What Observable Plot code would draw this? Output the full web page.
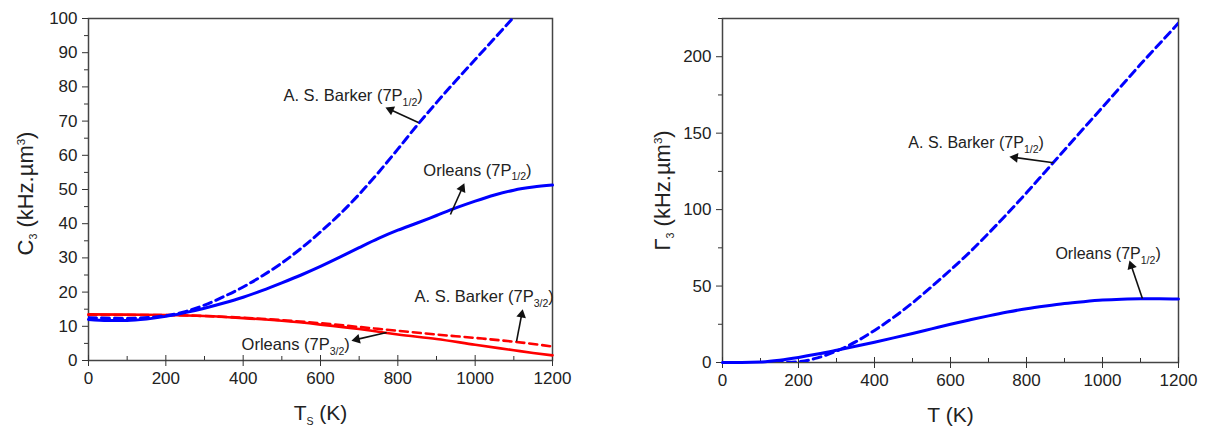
<!DOCTYPE html>
<html>
<head>
<meta charset="utf-8">
<script src="https://cdn.jsdelivr.net/npm/d3@7"></script>
<script src="https://cdn.jsdelivr.net/npm/@observablehq/plot@0.6"></script>
<style>
  html, body { margin: 0; padding: 0; background: #fff; }
  #wrap { position: relative; width: 1207px; height: 427px; background: #fff; overflow: hidden; }
  #left { position: absolute; left: 0; top: 0; }
  #right { position: absolute; left: 600px; top: 0; }
</style>
</head>
<body>
<div id="wrap"><div id="left"></div><div id="right"></div></div>
<script>
// ---------- Left panel: C3 vs surface temperature ----------
const tempsBarker12 = [0,100,200,250,300,350,400,450,500,550,600,650,700,750,800,850,900,950,1000,1050,1100];
const barker12C3    = [12.5,12.3,13.1,14.3,16.2,18.7,21.5,24.8,28.5,32.8,37.6,42.8,48.6,55,61.8,68.8,75.4,81.8,88,94.2,100.4];

const tempsOrleans12 = [0,50,100,150,200,250,300,350,400,450,500,550,600,650,700,750,800,850,900,950,1000,1050,1100,1150,1200];
const orleans12C3    = [12,11.7,11.7,12.1,12.9,14,15.3,16.8,18.5,20.5,22.7,25,27.5,30.2,33,35.7,38.1,40.2,42.4,44.6,46.6,48.4,49.8,50.7,51.3];

const tempsBarker32 = [0,100,200,300,400,500,600,700,800,900,1000,1100,1200];
const barker32C3    = [13.3,13.3,13.3,13.0,12.5,11.8,10.9,9.8,8.7,7.6,6.6,5.5,4.1];

const tempsOrleans32 = [0,100,200,300,400,500,600,700,750,800,900,1000,1100,1150,1200];
const orleans32C3    = [13.5,13.4,13.3,13.0,12.4,11.6,10.5,9.2,8.4,7.6,6.3,4.6,3.0,2.2,1.5];

// annotations (left): text, anchor T, anchor C
const leftLabelText = ["A. S. Barker (7P_{1/2})", "Orleans (7P_{1/2})", "A. S. Barker (7P_{3/2})", "Orleans (7P_{3/2})"];
const leftLabelT    = [504, 866, 843, 396];
const leftLabelC    = [77.5, 55.6, 18.7, 4.7];
// arrows (left): tail -> head
const leftArrowT1 = [853, 936, 1107, 771];
const leftArrowC1 = [69.6, 42.7, 5.6, 8.2];
const leftArrowT2 = [768, 972, 1123, 680];
const leftArrowC2 = [74, 51.8, 15, 5.8];

// ---------- Right panel: Gamma3 vs T ----------
const tempsRight = [0,50,100,150,200,250,300,350,400,450,500,550,600,650,700,750,800,850,900,950,1000,1050,1100,1150,1200];
const barkerG3   = [0,0,0,0,0.5,3,7.5,13.5,21,29.5,39,49.5,60.5,72,84.5,97.5,111,125,139,153,167,181,195,208.5,222];
const orleansG3  = [0,0,0.3,1.5,3.3,5.5,8,10.6,13.3,16.1,19,22,25,27.8,30.5,33,35.2,37,38.6,39.8,40.8,41.4,41.7,41.7,41.5];

const rightLabelText = ["A. S. Barker (7P_{1/2})", "Orleans (7P_{1/2})"];
const rightLabelT    = [489, 876];
const rightLabelG    = [143.8, 71.2];
const rightArrowT1 = [871, 1105];
const rightArrowG1 = [130.7, 41.8];
const rightArrowT2 = [755, 1071];
const rightArrowG2 = [134.6, 66.7];

// ticks
const xMajor = [0,200,400,600,800,1000,1200];
const xMinor = [100,300,500,700,900,1100];
const yMajorLeft = d3.range(0, 101, 10);
const yMinorLeft = d3.range(5, 100, 10);
const yMajorRight = [0,50,100,150,200];
const yMinorRight = [25,75,125,175,225];

const BLUE = "#0000ff", RED = "#ff0000", INK = "#222";
const FONT = "'Liberation Sans', Arial, sans-serif";
const fmt = d => String(d);

const zip = (xs, ys) => xs.map((x, i) => ({x, y: ys[i]}));
const labels = (t, xs, ys) => t.map((s, i) => ({s, x: xs[i], y: ys[i]}));

// arrows with filled heads: link from tail to head base, triangle dot at head
function arrowData(x1, y1, x2, y2, sx, sy, r) {
  const A = Math.PI * r * r;
  const side = Math.sqrt(4 * A / Math.sqrt(3));
  const tip = (2 / 3) * side * Math.sqrt(3) / 2;
  return x1.map((v, i) => {
    const p1 = [sx.apply(v), sy.apply(y1[i])];
    const p2 = [sx.apply(x2[i]), sy.apply(y2[i])];
    const L = Math.hypot(p2[0] - p1[0], p2[1] - p1[1]);
    const u = [(p2[0] - p1[0]) / L, (p2[1] - p1[1]) / L];
    const c = [p2[0] - u[0] * tip, p2[1] - u[1] * tip];
    return {
      x1: v, y1: y1[i],
      cx: sx.invert(c[0]), cy: sy.invert(c[1]),
      angle: Math.atan2(u[0], -u[1]) * 180 / Math.PI
    };
  });
}

function commonMarks(plotH, yMajor, yMinor) {
  return [
    Plot.frame({stroke: "#444", strokeWidth: 1.5}),
    Plot.axisX(xMajor, {tickSize: 6, tickPadding: 5, fontSize: 17, stroke: "#333", tickFormat: fmt, label: null}),
    Plot.tickX(xMajor, {x: d => d, insetTop: plotH - 5, stroke: "#333"}),
    Plot.tickX(xMinor, {x: d => d, insetTop: plotH - 4, stroke: "#333"}),
    Plot.axisY(yMajor, {tickSize: 6, tickPadding: 5, fontSize: 17, stroke: "#333", tickFormat: fmt, label: null}),
    Plot.axisY(yMinor, {tickSize: 4, tickFormat: () => "", stroke: "#333", label: null})
  ];
}

function arrowMarks(data) {
  return [
    Plot.link(data, {x1: "x1", y1: "y1", x2: "cx", y2: "cy", stroke: "#111", strokeWidth: 1.6}),
    Plot.dot(data, {x: "cx", y: "cy", symbol: "triangle", r: 3.6, rotate: "angle", fill: "#111", stroke: "none"})
  ];
}

// Left plot
const LW = 600, LH = 427, LL = 88, LR = 48, LT = 18, LB = 67;
const sxL = Plot.scale({x: {domain: [0, 1200], range: [LL, LW - LR]}});
const syL = Plot.scale({y: {domain: [0, 100], range: [LH - LB, LT]}});
const left = Plot.plot({
  width: LW, height: LH,
  marginLeft: LL, marginRight: LR, marginTop: LT, marginBottom: LB,
  x: {domain: [0, 1200], label: null},
  y: {domain: [0, 100], label: null},
  style: {fontFamily: FONT, fontSize: "17px", color: INK, background: "white", overflow: "visible"},
  marks: [
    ...commonMarks(LH - LT - LB, yMajorLeft, yMinorLeft),
    Plot.line(zip(tempsBarker32, barker32C3), {x: "x", y: "y", stroke: RED, strokeWidth: 2.6, strokeDasharray: "8,5", curve: "monotone-x"}),
    Plot.line(zip(tempsOrleans32, orleans32C3), {x: "x", y: "y", stroke: RED, strokeWidth: 2.6, curve: "monotone-x"}),
    Plot.line(zip(tempsOrleans12, orleans12C3), {x: "x", y: "y", stroke: BLUE, strokeWidth: 3, curve: "monotone-x"}),
    Plot.line(zip(tempsBarker12, barker12C3), {x: "x", y: "y", stroke: BLUE, strokeWidth: 3, strokeDasharray: "8,5", curve: "monotone-x", clip: true}),
    ...arrowMarks(arrowData(leftArrowT1, leftArrowC1, leftArrowT2, leftArrowC2, sxL, syL, 3.6)),
    Plot.text(labels(leftLabelText, leftLabelT, leftLabelC), {x: "x", y: "y", text: "s", textAnchor: "start", lineAnchor: "middle", fontSize: 16.5, fill: INK}),
    Plot.text(["C^{}_{3} (kHz.µm^{3})"], {frameAnchor: "left", rotate: -90, dx: -63, dy: 66, lineAnchor: "middle", fontSize: 22, fill: INK}),
    Plot.text(["T_{S} (K)"], {frameAnchor: "bottom", dy: 53, lineAnchor: "middle", fontSize: 21, fill: INK})
  ]
});

// Right plot
const RW = 607, RH = 427, RL = 122, RR = 29, RT = 18, RB = 65;
const sxR = Plot.scale({x: {domain: [0, 1200], range: [RL, RW - RR]}});
const syR = Plot.scale({y: {domain: [0, 225], range: [RH - RB, RT]}});
const right = Plot.plot({
  width: RW, height: RH,
  marginLeft: RL, marginRight: RR, marginTop: RT, marginBottom: RB,
  x: {domain: [0, 1200], label: null},
  y: {domain: [0, 225], label: null},
  style: {fontFamily: FONT, fontSize: "17px", color: INK, background: "white", overflow: "visible"},
  marks: [
    ...commonMarks(RH - RT - RB, yMajorRight, yMinorRight),
    Plot.line(zip(tempsRight, orleansG3), {x: "x", y: "y", stroke: BLUE, strokeWidth: 3, curve: "monotone-x"}),
    Plot.line(zip(tempsRight, barkerG3), {x: "x", y: "y", stroke: BLUE, strokeWidth: 3, strokeDasharray: "8,5", curve: "monotone-x", clip: true}),
    ...arrowMarks(arrowData(rightArrowT1, rightArrowG1, rightArrowT2, rightArrowG2, sxR, syR, 3.6)),
    Plot.text(labels(rightLabelText, rightLabelT, rightLabelG), {x: "x", y: "y", text: "s", textAnchor: "start", lineAnchor: "middle", fontSize: 16, fill: INK}),
    Plot.text(["Γ_{3} (kHz.µm^{3})"], {frameAnchor: "left", rotate: -90, dx: -60, dy: 60, lineAnchor: "middle", fontSize: 22, fill: INK}),
    Plot.text(["T (K)"], {frameAnchor: "bottom", dy: 53, lineAnchor: "middle", fontSize: 21, fill: INK})
  ]
});

// Turn _{..} / ^{..} markers into real sub/superscript tspans
function richify(svg) {
  d3.select(svg).selectAll("text").each(function() {
    const el = this;
    const s = el.textContent;
    if (!/[_^]\{/.test(s)) return;
    const fs = parseFloat(el.getAttribute("font-size")) || parseFloat(getComputedStyle(el).fontSize) || 16;
    while (el.firstChild) el.removeChild(el.firstChild);
    const re = /([_^])\{([^}]*)\}/g;
    let last = 0, m, shift = 0;
    const add = (txt, newShift, scale) => {
      if (txt === "" && newShift === shift) return;
      const t = document.createElementNS("http://www.w3.org/2000/svg", "tspan");
      const dy = newShift - shift;
      if (dy) t.setAttribute("dy", dy);
      if (scale) t.setAttribute("font-size", fs * scale);
      t.textContent = txt;
      el.appendChild(t);
      shift = newShift;
    };
    while ((m = re.exec(s))) {
      add(s.slice(last, m.index), 0, 0);
      if (m[1] === "_") add(m[2], fs * 0.3, 0.66);
      else add(m[2], -fs * 0.45, 0.72);
      last = re.lastIndex;
    }
    add(s.slice(last), 0, 0);
  });
}
richify(left); richify(right);

document.getElementById("left").appendChild(left);
document.getElementById("right").appendChild(right);
</script>
</body>
</html>
